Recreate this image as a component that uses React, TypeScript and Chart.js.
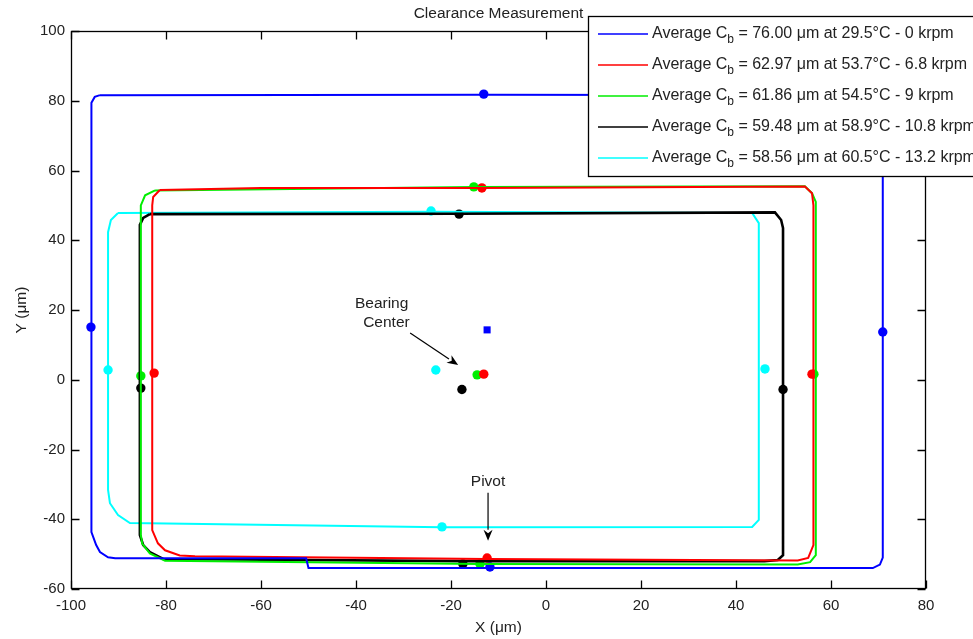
import React, { useEffect, useRef } from 'react';
import { Chart, registerables } from 'chart.js';

Chart.register(...registerables);

// ---- Data (µm) ----
const xTickValues = [-100, -80, -60, -40, -20, 0, 20, 40, 60, 80];
const yTickValues = [-60, -40, -20, 0, 20, 40, 60, 80, 100];

const seriesNames = [
  '76.00 μm at 29.5°C - 0 krpm',
  '62.97 μm at 53.7°C - 6.8 krpm',
  '61.86 μm at 54.5°C - 9 krpm',
  '59.48 μm at 58.9°C - 10.8 krpm',
  '58.56 μm at 60.5°C - 13.2 krpm',
];
const seriesColors = ['#0000ff', '#ff0000', '#00ee00', '#000000', '#00ffff'];

// clearance traces (closed loops)
const blueTraceX = [-93.9, -13.0, 69.5, 70.9, 70.9, 70.9, 70.3, 68.8, -11.8, -50.0, -50.5, -90.7, -92.2, -93.9, -94.7, -95.7, -95.7, -95.7, -95.0, -93.9];
const blueTraceY = [81.6, 81.7, 81.6, 80.0, 14.0, -51.0, -53.0, -54.0, -54.0, -54.0, -51.2, -51.2, -50.9, -49.4, -47.4, -43.7, 15.0, 79.4, 81.1, 81.6];

const redTraceX = [-81.3, -60.0, -13.5, 54.5, 56.0, 56.3, 56.3, 56.3, 55.2, 53.0, -12.4, -73.9, -77.1, -80.2, -81.7, -82.9, -82.9, -82.9, -82.7, -81.3];
const redTraceY = [54.4, 55.0, 55.0, 55.4, 53.5, 50.0, 1.6, -47.4, -51.1, -51.8, -51.4, -50.6, -50.4, -48.9, -46.9, -43.1, 1.9, 50.0, 52.4, 54.4];

const greenTraceX = [-82.3, -15.2, 54.5, 56.0, 56.8, 56.8, 56.8, 55.6, 53.0, -13.9, -80.2, -83.4, -85.0, -85.3, -85.3, -85.3, -84.4, -82.3];
const greenTraceY = [54.3, 55.3, 55.5, 53.5, 51.0, 1.6, -50.3, -52.3, -53.0, -52.8, -51.9, -49.8, -47.0, -44.5, 1.1, 50.0, 52.9, 54.3];

const blackTraceX = [-83.4, -18.3, 48.2, 49.5, 49.9, 49.9, 49.9, 48.8, 46.0, -17.5, -80.6, -83.4, -84.8, -85.5, -85.5, -85.5, -84.8, -83.4];
const blackTraceY = [47.5, 47.6, 48.0, 45.8, 43.5, -2.8, -50.3, -51.7, -52.0, -52.0, -51.4, -49.4, -47.4, -44.5, -2.4, 44.4, 46.4, 47.5];

const cyanTraceX = [-90.1, -24.2, 43.4, 44.8, 44.8, 44.8, 43.4, -21.9, -87.6, -90.1, -91.8, -92.2, -92.2, -92.2, -91.6, -90.1];
const cyanTraceY = [47.8, 48.2, 47.8, 44.9, 3.0, -40.2, -42.2, -42.3, -41.1, -38.8, -35.4, -31.6, 2.8, 42.3, 45.8, 47.8];

// measured points: top, left, right, bottom (pivot), center
const blueMarkX = [-13.1, -95.8, 70.9, -11.8, -12.4];
const blueMarkY = [81.9, 15.1, 13.7, -53.7, 14.3];
const redMarkX = [-13.5, -82.5, 56.0, -12.4, -13.1];
const redMarkY = [55.0, 1.9, 1.6, -51.1, 1.6];
const greenMarkX = [-15.2, -85.3, 56.4, -13.9, -14.5];
const greenMarkY = [55.3, 1.1, 1.6, -52.8, 1.4];
const blackMarkX = [-18.3, -85.3, 49.9, -17.5, -17.7];
const blackMarkY = [47.5, -2.4, -2.8, -52.8, -2.8];
const cyanMarkX = [-24.2, -92.2, 46.1, -21.9, -23.2];
const cyanMarkY = [48.4, 2.8, 3.1, -42.2, 2.8];

const traces = [
  [blueTraceX, blueTraceY],
  [redTraceX, redTraceY],
  [greenTraceX, greenTraceY],
  [blackTraceX, blackTraceY],
  [cyanTraceX, cyanTraceY],
];
const marks = [
  [blueMarkX, blueMarkY],
  [redMarkX, redMarkY],
  [greenMarkX, greenMarkY],
  [blackMarkX, blackMarkY],
  [cyanMarkX, cyanMarkY],
];

const FONT = "'Liberation Sans', Arial, sans-serif";
const TEXT = '#222';

function zip(xs: number[], ys: number[]) {
  return xs.map((x, i) => ({ x, y: ys[i] }));
}

function arrow(ctx: CanvasRenderingContext2D, x1: number, y1: number, x2: number, y2: number) {
  const ang = Math.atan2(y2 - y1, x2 - x1);
  const hl = 11, hw = 4.5;
  ctx.beginPath();
  ctx.moveTo(x1, y1);
  ctx.lineTo(x2 - hl * Math.cos(ang), y2 - hl * Math.sin(ang));
  ctx.stroke();
  ctx.beginPath();
  ctx.moveTo(x2, y2);
  ctx.lineTo(x2 - hl * Math.cos(ang) + hw * Math.sin(ang), y2 - hl * Math.sin(ang) - hw * Math.cos(ang));
  ctx.lineTo(x2 - hl * 0.7 * Math.cos(ang), y2 - hl * 0.7 * Math.sin(ang));
  ctx.lineTo(x2 - hl * Math.cos(ang) - hw * Math.sin(ang), y2 - hl * Math.sin(ang) + hw * Math.cos(ang));
  ctx.closePath();
  ctx.fill();
}

const overlayPlugin = {
  id: 'overlay',
  afterDatasetsDraw(chart: any) {
    const { ctx, scales } = chart;
    const sx = scales.x, sy = scales.y;
    ctx.save();
    ctx.fillStyle = TEXT;
    ctx.font = `15.5px ${FONT}`;
    ctx.textAlign = 'center';
    ctx.textBaseline = 'middle';
    ctx.fillText('Bearing', sx.getPixelForValue(-34.6), sy.getPixelForValue(21.8));
    ctx.fillText('Center', sx.getPixelForValue(-33.6), sy.getPixelForValue(16.3));
    ctx.fillText('Pivot', sx.getPixelForValue(-12.2), sy.getPixelForValue(-29.3));
    ctx.strokeStyle = '#000';
    ctx.fillStyle = '#000';
    ctx.lineWidth = 1.2;
    arrow(ctx, sx.getPixelForValue(-28.6), sy.getPixelForValue(13.4), sx.getPixelForValue(-18.5), sy.getPixelForValue(4.2));
    arrow(ctx, sx.getPixelForValue(-12.2), sy.getPixelForValue(-32.4), sx.getPixelForValue(-12.2), sy.getPixelForValue(-46.2));
    ctx.restore();
  },
  afterDraw(chart: any) {
    const { ctx, chartArea: a, scales } = chart;
    const sx = scales.x, sy = scales.y;
    ctx.save();
    // frame
    ctx.strokeStyle = '#000';
    ctx.lineWidth = 1.3;
    const L = Math.round(a.left) + 0.5, R = Math.round(a.right) - 0.5;
    const T = Math.round(a.top) + 0.5, B = Math.round(a.bottom) - 0.5;
    ctx.strokeRect(L, T, R - L, B - T);
    // inside ticks
    const tl = 8;
    ctx.beginPath();
    xTickValues.forEach((v) => {
      const p = Math.round(sx.getPixelForValue(v)) + 0.5;
      ctx.moveTo(p, B); ctx.lineTo(p, B - tl);
      ctx.moveTo(p, T); ctx.lineTo(p, T + tl);
    });
    yTickValues.forEach((v) => {
      const p = Math.round(sy.getPixelForValue(v)) + 0.5;
      ctx.moveTo(L, p); ctx.lineTo(L + tl, p);
      ctx.moveTo(R, p); ctx.lineTo(R - tl, p);
    });
    ctx.stroke();

    // legend
    const bx = 588.5, by = 16.5, bw = 400, bh = 160;
    ctx.fillStyle = '#fff';
    ctx.fillRect(bx, by, bw, bh);
    ctx.strokeStyle = '#000';
    ctx.lineWidth = 1.3;
    ctx.strokeRect(bx, by, bw, bh);
    seriesNames.forEach((name, i) => {
      const ry = 34 + i * 31;
      ctx.strokeStyle = seriesColors[i];
      ctx.lineWidth = 1.6;
      ctx.beginPath();
      ctx.moveTo(598, ry); ctx.lineTo(648, ry);
      ctx.stroke();
      ctx.fillStyle = TEXT;
      ctx.textAlign = 'left';
      ctx.textBaseline = 'middle';
      ctx.font = `16px ${FONT}`;
      let tx = 652;
      const p1 = 'Average C';
      ctx.fillText(p1, tx, ry);
      tx += ctx.measureText(p1).width;
      ctx.font = `12px ${FONT}`;
      ctx.fillText('b', tx, ry + 6);
      tx += ctx.measureText('b').width;
      ctx.font = `16px ${FONT}`;
      ctx.fillText(' = ' + name, tx, ry);
    });
    ctx.restore();
  },
};

export default function App() {
  const ref = useRef<HTMLCanvasElement | null>(null);
  useEffect(() => {
    if (!ref.current) return;
    const datasets: any[] = [];
    traces.forEach(([xs, ys], i) => {
      datasets.push({
        data: zip(xs, ys),
        showLine: true,
        borderColor: seriesColors[i],
        borderWidth: i === 3 ? 2.6 : 2,
        pointRadius: 0,
        fill: false,
        tension: 0,
      });
    });
    marks.forEach(([xs, ys], i) => {
      datasets.push({
        data: zip(xs, ys),
        showLine: false,
        backgroundColor: seriesColors[i],
        borderColor: seriesColors[i],
        pointRadius: i === 0 ? [4.7, 4.7, 4.7, 4.7, 5] : 4.7,
        pointStyle: i === 0 ? ['circle', 'circle', 'circle', 'circle', 'rect'] : 'circle',
        borderWidth: 0,
      });
    });
    const chart = new Chart(ref.current, {
      type: 'scatter',
      data: { datasets },
      options: {
        animation: false,
        responsive: true,
        maintainAspectRatio: false,
        layout: { padding: { left: 0, right: 47, top: 0, bottom: 0 } },
        plugins: {
          legend: { display: false },
          tooltip: { enabled: false },
          title: {
            display: true,
            fullSize: false,
            text: 'Clearance Measurement',
            color: TEXT,
            font: { family: FONT, size: 15.5, weight: 'normal', lineHeight: 1.2 },
            padding: { top: 4, bottom: 8.4 },
          },
        },
        scales: {
          x: {
            type: 'linear',
            min: -100,
            max: 80,
            afterFit: (s: any) => { s.height = 50; },
            afterBuildTicks: (s: any) => { s.ticks = xTickValues.map((v) => ({ value: v })); },
            ticks: { color: TEXT, font: { family: FONT, size: 15 }, padding: 8, maxRotation: 0 },
            grid: { display: false, drawTicks: false },
            border: { display: false },
            title: { display: true, text: 'X (μm)', color: TEXT, font: { family: FONT, size: 15.5 }, padding: { top: 0, bottom: 2 } },
          },
          y: {
            type: 'linear',
            min: -60,
            max: 100,
            afterFit: (s: any) => { s.width = 71; },
            afterBuildTicks: (s: any) => { s.ticks = yTickValues.map((v) => ({ value: v })); },
            ticks: { color: TEXT, font: { family: FONT, size: 15 }, padding: 6 },
            grid: { display: false, drawTicks: false },
            border: { display: false },
            title: { display: true, text: 'Y (μm)', color: TEXT, font: { family: FONT, size: 15.5 }, padding: { top: 12, bottom: 0 } },
          },
        },
      },
      plugins: [overlayPlugin],
    } as any);
    return () => chart.destroy();
  }, []);
  return (
    <div style={{ position: 'fixed', left: 0, top: 0, width: 973, height: 639, background: '#fff' }}>
      <canvas ref={ref} />
    </div>
  );
}
